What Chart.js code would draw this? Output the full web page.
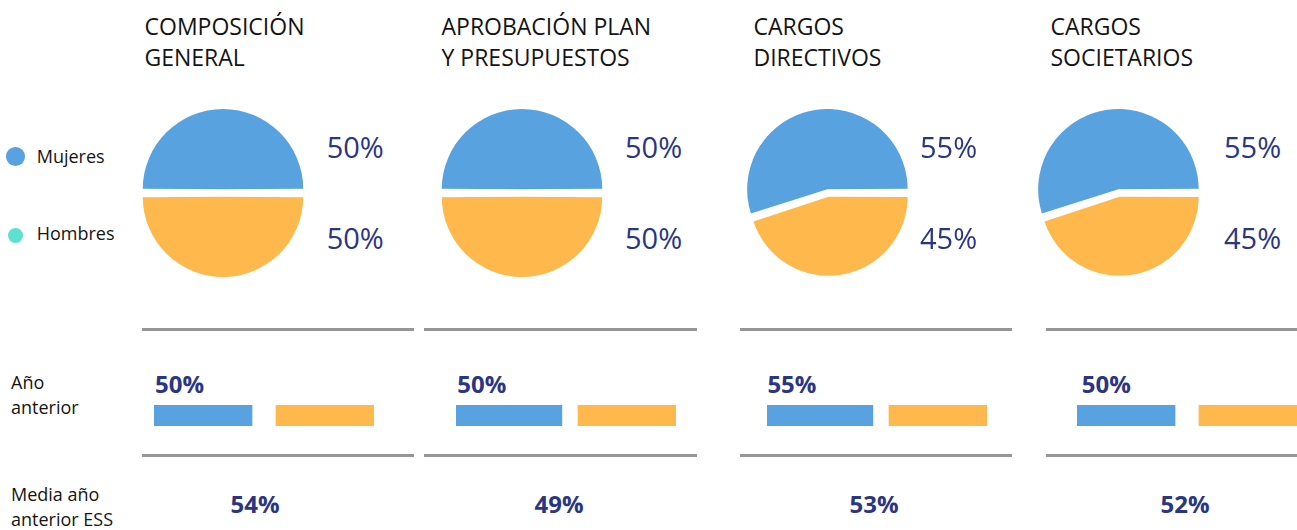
<!DOCTYPE html>
<html lang="es">
<head>
<meta charset="utf-8">
<script src="https://cdn.jsdelivr.net/npm/chart.js@4.4.1/dist/chart.umd.min.js"></script>
<style>
  html, body { margin: 0; padding: 0; background: #ffffff; }
  body { width: 1297px; height: 530px; position: relative; overflow: hidden; font-family: "Open Sans", "Noto Sans", sans-serif; }
  .t { position: absolute; white-space: nowrap; line-height: 1.362; }
  canvas { position: absolute; }
  .rule { position: absolute; height: 3px; background: #969696; }
  .dot { position: absolute; border-radius: 50%; }
</style>
</head>
<body>
<script>
// ---------------- DATA ----------------
const panelTitles = [
  ['COMPOSICIÓN', 'GENERAL'],
  ['APROBACIÓN PLAN', 'Y PRESUPUESTOS'],
  ['CARGOS', 'DIRECTIVOS'],
  ['CARGOS', 'SOCIETARIOS']
];
const seriesNames = ['Mujeres', 'Hombres'];
const mujeres = [50, 50, 55, 55];          // pie: women %
const hombres = [50, 50, 45, 45];          // pie: men %
const prevYearLabel = [50, 50, 55, 50];    // "Año anterior" label %
const prevBarMujeres = [50, 54, 54, 50];   // "Año anterior" blue bar length
const prevBarHombres = [50, 50, 50, 50];   // "Año anterior" orange bar length
const essMedia = [54, 49, 53, 52];         // "Media año anterior ESS" %
const rowLabels = [['Año', 'anterior'], ['Media año', 'anterior ESS']];

// ---------------- STYLE / LAYOUT ----------------
const C = { blue: '#57a2df', orange: '#ffb84c', teal: '#5ce0cf', navy: '#2b3682', ink: '#141414' };
const L = {
  titleX: [144.5, 441.5, 753.5, 1050.5],
  pieCX: [223, 521.7, 827.6, 1119.2], pieCY: 192.7, pieR: 76.5, pieOffset: 15,
  pctX: [326.7, 625, 920, 1224],
  ruleX: [[141.7, 414.3], [424, 697.3], [739.6, 1012.3], [1045.7, 1297]],
  ruleY: [327.8, 454.2],
  barX: [154, 456, 766.6, 1077], barY: 405, barH: 21, barW: 220, barMax: 112.2, hombresStart: 62.2,
  prevLabelX: [155, 457.3, 767.4, 1081.7],
  essCX: [255, 559, 874, 1185]
};

function text(str, x, baseline, size, opts = {}) {
  const d = document.createElement('div');
  d.className = 't';
  d.textContent = str;
  d.style.fontSize = size + 'px';
  d.style.top = (baseline - 1.069 * size) + 'px';
  d.style.fontWeight = opts.weight || 400;
  d.style.color = opts.color || C.ink;
  d.style.left = x + 'px';
  if (opts.center) d.style.transform = 'translateX(-50%)';
  document.body.appendChild(d);
  return d;
}

// Legend
[[C.blue, 9.3, 156.7, 163.3], [C.teal, 7.8, 235.7, 240.7]].forEach(([col, r, cy, base], i) => {
  const d = document.createElement('div');
  d.className = 'dot';
  d.style.background = col;
  d.style.width = d.style.height = (2 * r) + 'px';
  d.style.left = (15.7 - r) + 'px';
  d.style.top = (cy - r) + 'px';
  document.body.appendChild(d);
  text(seriesNames[i], 36.7, base, 18);
});

// Row labels
text(rowLabels[0][0], 11, 389, 18);
text(rowLabels[0][1], 11, 414, 18);
text(rowLabels[1][0], 11, 501.7, 18);
text(rowLabels[1][1], 11, 526.5, 18);

// Rules
L.ruleX.forEach(([a, b]) => {
  L.ruleY.forEach(y => {
    const d = document.createElement('div');
    d.className = 'rule';
    d.style.left = a + 'px';
    d.style.width = (b - a) + 'px';
    d.style.top = y + 'px';
    document.body.appendChild(d);
  });
});

panelTitles.forEach((lines, i) => {
  // Titles
  text(lines[0], L.titleX[i], 35.5, 23);
  text(lines[1], L.titleX[i], 66.7, 23);

  // Pie
  const size = 200;
  const pc = document.createElement('canvas');
  pc.width = size; pc.height = size;
  pc.style.width = size + 'px'; pc.style.height = size + 'px';
  pc.style.left = (L.pieCX[i] - size / 2) + 'px';
  pc.style.top = (L.pieCY - size / 2) + 'px';
  document.body.appendChild(pc);
  new Chart(pc, {
    type: 'pie',
    data: {
      labels: [seriesNames[1], seriesNames[0]],
      datasets: [{
        data: [hombres[i], mujeres[i]],
        backgroundColor: [C.orange, C.blue],
        borderWidth: 0,
        offset: L.pieOffset,
        hoverOffset: 0
      }]
    },
    options: {
      responsive: false,
      animation: false,
      devicePixelRatio: 1,
      rotation: 90,
      radius: L.pieR,
      layout: { padding: 0 },
      events: [],
      plugins: { legend: { display: false }, tooltip: { enabled: false } }
    }
  });

  // Pie percentage labels
  text(mujeres[i] + '%', L.pctX[i], 158.3, 29, { color: C.navy });
  text(hombres[i] + '%', L.pctX[i], 248.8, 29, { color: C.navy });

  // Previous year label
  text(prevYearLabel[i] + '%', L.prevLabelX[i], 393.3, 24, { weight: 700, color: C.navy });

  // Previous year bars
  const bc = document.createElement('canvas');
  bc.width = L.barW; bc.height = L.barH;
  bc.style.width = L.barW + 'px'; bc.style.height = L.barH + 'px';
  bc.style.left = L.barX[i] + 'px';
  bc.style.top = L.barY + 'px';
  document.body.appendChild(bc);
  new Chart(bc, {
    type: 'bar',
    data: {
      labels: ['Año anterior'],
      datasets: [
        { label: seriesNames[0], data: [[0, prevBarMujeres[i]]], backgroundColor: C.blue, grouped: false, borderWidth: 0, barPercentage: 1, categoryPercentage: 1 },
        { label: seriesNames[1], data: [[L.hombresStart, L.hombresStart + prevBarHombres[i]]], backgroundColor: C.orange, grouped: false, borderWidth: 0, barPercentage: 1, categoryPercentage: 1 }
      ]
    },
    options: {
      indexAxis: 'y',
      responsive: false,
      animation: false,
      devicePixelRatio: 1,
      events: [],
      layout: { padding: 0 },
      scales: {
        x: { display: false, min: 0, max: L.barMax },
        y: { display: false }
      },
      plugins: { legend: { display: false }, tooltip: { enabled: false } }
    }
  });

  // ESS average
  text(essMedia[i] + '%', L.essCX[i], 514, 24, { weight: 700, color: C.navy, center: true });
});
</script>
</body>
</html>
